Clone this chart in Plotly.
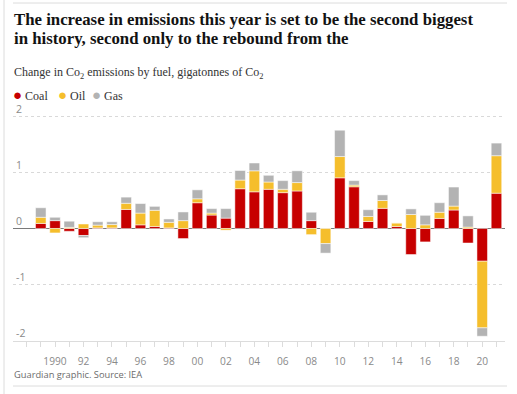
import plotly.graph_objects as go

years = list(range(1989, 2022))
coal = [0.09, 0.14, -0.05, -0.125, 0.01, 0.01, 0.34, 0.065, 0.035, 0.01, -0.18,
        0.46, 0.24, 0.185, 0.71, 0.655, 0.70, 0.64, 0.67, 0.14, 0.0,
        0.905, 0.745, 0.125, 0.36, 0.035, -0.465, -0.24, 0.18, 0.33, -0.26,
        -0.585, 0.63]
oil = [0.11, -0.08, 0.02, 0.08, 0.05, 0.06, 0.11, 0.21, 0.29, 0.10, 0.14,
       0.07, 0.035, -0.03, 0.155, 0.375, 0.13, 0.06, 0.15, -0.11, -0.27,
       0.38, 0.03, 0.09, 0.14, 0.065, 0.25, 0.065, 0.11, 0.07, 0.025,
       -1.19, 0.67]
gas = [0.17, 0.06, 0.11, -0.04, 0.06, 0.05, 0.11, 0.17, 0.07, 0.06, 0.155,
       0.16, 0.08, 0.17, 0.17, 0.14, 0.12, 0.155, 0.21, 0.15, -0.17,
       0.47, 0.08, 0.12, 0.10, 0.0, 0.10, 0.17, 0.17, 0.34, 0.20,
       -0.15, 0.225]
label_years = list(range(1990, 2021, 2))
tick_text = ["1990" if y == 1990 else f"{y % 100:02d}" for y in label_years]
y_ticks = [-2, -1, 0, 1, 2]
series_names = ["Coal", "Oil", "Gas"]
series_colors = ["#c70000", "#f5be2c", "#b3b3b3"]

W, H = 517, 394
Y_TOP = 2.42
UNIT = 56.0
L, R, B = 13, 12, 53
T = int(round(117 - (Y_TOP - 2.0) * UNIT))
PW, PH = W - L - R, H - T - B


def px(x):
    return (x - L) / PW


def py(y):
    return (H - B - y) / PH


fig = go.Figure()
for name, vals, col in zip(series_names, [coal, oil, gas], series_colors):
    fig.add_trace(go.Bar(x=years, y=vals, name=name, marker_color=col,
                         marker_line_color="white", marker_line_width=0.5,
                         width=0.74, showlegend=False))

fig.update_layout(
    width=W, height=H,
    margin=dict(l=L, r=R, t=T, b=B),
    barmode="relative",
    plot_bgcolor="white", paper_bgcolor="white",
    showlegend=False,
    font=dict(family="Open Sans", color="#8a8a8a", size=11),
)
fig.update_xaxes(
    range=[1987.05, 2021.6],
    tickmode="array", tickvals=label_years, ticktext=tick_text,
    ticks="outside", ticklen=5, tickcolor="#dcdcdc", tickwidth=1,
    minor=dict(ticks="outside", tick0=1989, dtick=1, ticklen=5, tickcolor="#dcdcdc", showgrid=False),
    showline=True, linecolor="#dcdcdc", linewidth=1,
    showgrid=False, zeroline=False,
    tickfont=dict(family="Open Sans", size=10.2, color="#8a8a8a"),
    ticklabelstandoff=6,
)
fig.update_yaxes(
    range=[-2.01, Y_TOP],
    tickmode="array", tickvals=y_ticks, ticktext=[str(v) for v in y_ticks],
    ticklabelposition="inside top",
    showgrid=True, gridcolor="#d9d9d9", griddash="dot", gridwidth=1,
    zeroline=True, zerolinecolor="#7a7a7a", zerolinewidth=1,
    tickfont=dict(family="Open Sans", size=10.5, color="#8a8a8a"),
    ticks="",
)

title_font = dict(family="Liberation Serif", size=16.8, color="#121212", weight="bold")
ann = []
ann.append(dict(text="The increase in emissions this year is set to be the second biggest",
                x=px(12), y=py(19), xref="paper", yref="paper", xanchor="left", yanchor="middle",
                showarrow=False, font=title_font))
ann.append(dict(text="in history, second only to the rebound from the",
                x=px(12), y=py(39), xref="paper", yref="paper", xanchor="left", yanchor="middle",
                showarrow=False, font=title_font))
ann.append(dict(text="Change in Co<sub>2</sub> emissions by fuel, gigatonnes of Co<sub>2</sub>",
                x=px(12), y=py(73), xref="paper", yref="paper", xanchor="left", yanchor="middle",
                showarrow=False, font=dict(family="Liberation Serif", size=12, color="#333333")))
leg_x = [11, 56, 90]
for name, col, lx in zip(series_names, series_colors, leg_x):
    ann.append(dict(text=f"<span style='color:{col};font-size:15px'>●</span> {name}",
                    x=px(lx), y=py(95), xref="paper", yref="paper", xanchor="left", yanchor="middle",
                    showarrow=False, font=dict(family="Liberation Serif", size=12, color="#333333")))
ann.append(dict(text="Guardian graphic. Source: IEA",
                x=px(12), y=py(374), xref="paper", yref="paper", xanchor="left", yanchor="middle",
                showarrow=False, font=dict(family="Open Sans", size=9.3, color="#6b6b6b")))
fig.update_layout(annotations=ann)

shapes = [
    dict(type="line", xref="paper", yref="paper", x0=px(13), x1=px(507), y0=py(3), y1=py(3),
         line=dict(color="#dcdcdc", width=1)),
    dict(type="line", xref="paper", yref="paper", x0=px(13), x1=px(507), y0=py(386), y1=py(386),
         line=dict(color="#dcdcdc", width=1)),
    dict(type="line", xref="paper", yref="paper", x0=px(4), x1=px(4), y0=py(0), y1=py(394),
         line=dict(color="#dcdcdc", width=1)),
]
fig.update_layout(shapes=shapes)

fig.write_html("out.html", config={"displayModeBar": False},
               post_script="document.body.style.margin='0';")
